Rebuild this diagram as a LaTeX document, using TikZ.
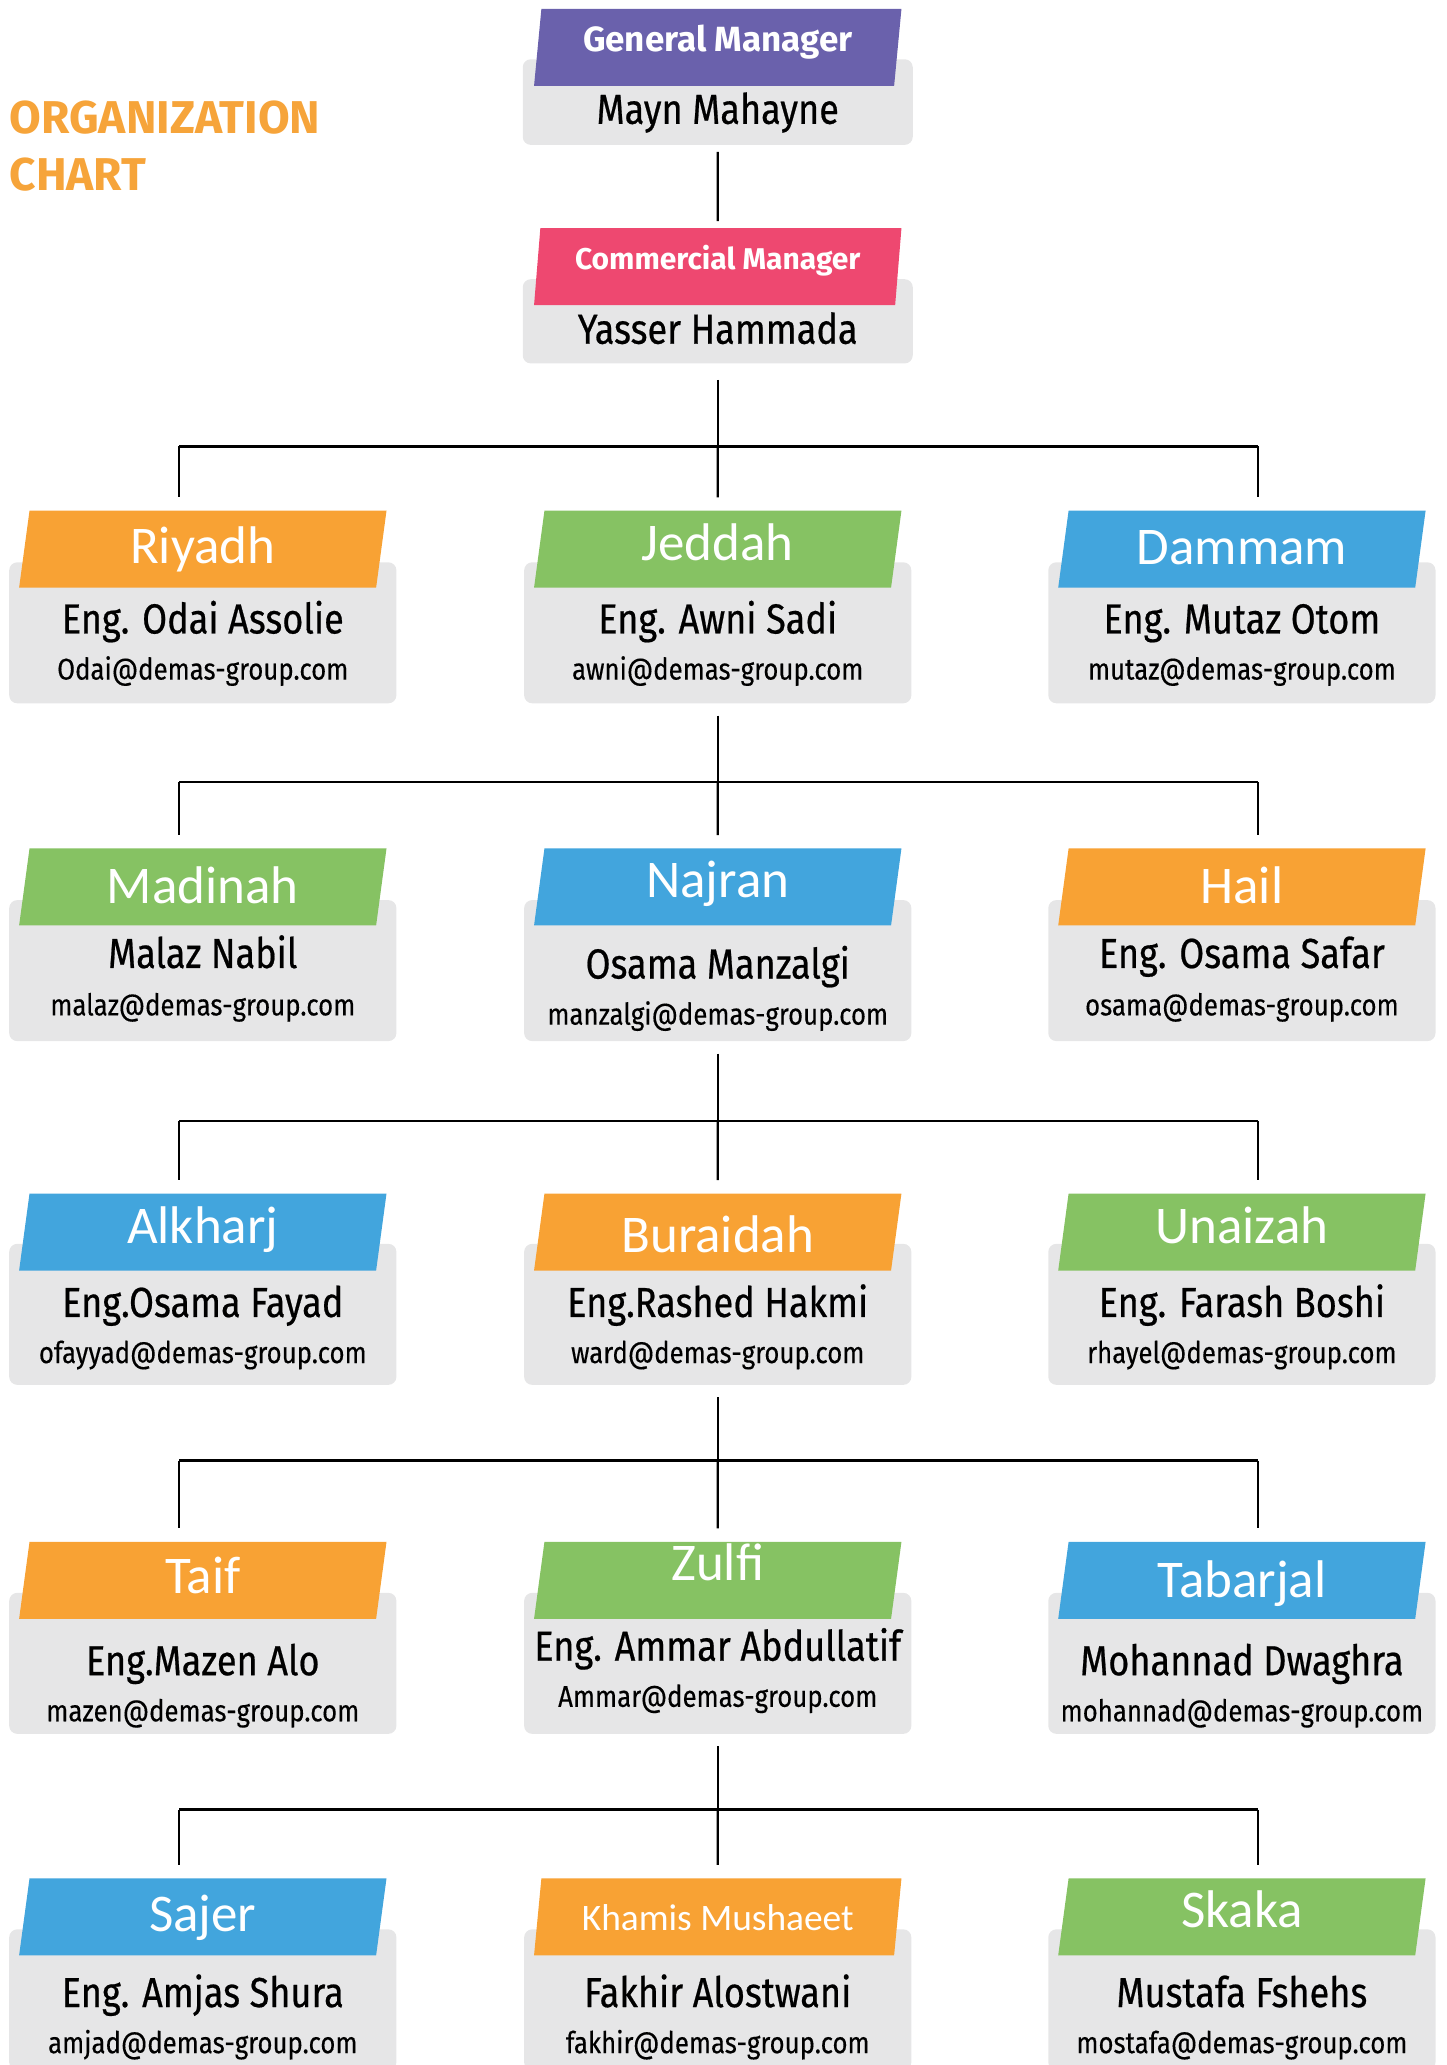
\documentclass[tikz,border=0pt]{standalone}
\usepackage{fontspec}
\usetikzlibrary{shapes.geometric}
\newfontfamily\dinfont[FakeStretch=0.86,FakeBold=0.3]{Fira Sans}
\newfontfamily\namefont[FakeStretch=0.86,FakeBold=0.5]{Fira Sans}
\newfontfamily\headfont{Fira Sans}
\newfontfamily\cityfont{Carlito}
\definecolor{gmpurple}{HTML}{6A61AC}
\definecolor{cmpink}{HTML}{EE4870}
\definecolor{tagorange}{HTML}{F8A234}
\definecolor{taggreen}{HTML}{86C263}
\definecolor{tagblue}{HTML}{42A5DD}
\definecolor{cardgray}{HTML}{E6E6E7}
\definecolor{titleorange}{HTML}{F6A43A}
\begin{document}
\begin{tikzpicture}[x=0.6585pt, y=-0.6585pt,
    card/.style = {fill=cardgray, rounded corners=4pt, minimum width=193.6pt, minimum height=70.5pt, inner sep=0pt},
    tag/.style = {trapezium, trapezium left angle=73, trapezium right angle=107, trapezium stretches body,
                  minimum width=183.7pt, minimum height=38.5pt, inner sep=0pt, text=white,
                  font=\cityfont\fontsize{26.5}{30}\selectfont, text height=17pt, text depth=0pt},
    mgr/.style = {tag, font=\headfont\bfseries\fontsize{17.5}{21}\selectfont, text height=12pt},
    person/.style = {anchor=base, font=\namefont\fontsize{21}{24}\selectfont},
    mail/.style = {anchor=base, font=\dinfont\fontsize{15}{18}\selectfont},
    title/.style = {anchor=base west, inner sep=0pt, text=titleorange, font=\headfont\bfseries\fontsize{23}{27}\selectfont},
    link/.style = {line width=1.1pt}]
    \useasboundingbox (0,0) rectangle (1098,1568);

    %title
    \node[title] (ttl1) at (7,101) {ORGANIZATION};
    \node[title] (ttl2) at (7,145) {CHART};

    %managers
    \node[card, minimum width=195pt, minimum height=42.8pt] (gmB) at (545,77.5) {};
    \node[mgr, fill=gmpurple] (gmT) at (545,36) {\raisebox{4pt}{General Manager}};
    \node[person] (gm) at (545,94) {Mayn Mahayne};

    \node[card, minimum width=195pt, minimum height=42.1pt] (cmB) at (545,244) {};
    \node[mgr, fill=cmpink, font=\headfont\bfseries\fontsize{15}{18}\selectfont, text height=10.3pt] (cmT) at (545,202.5) {\raisebox{3.6pt}{Commercial Manager}};
    \node[person] (cm) at (545,261) {Yasser Hammada};

    %row 1
    \node[card] (riyB) at (154,480.5) {};
    \node[tag, fill=tagorange] (riyT) at (154,417) {\raisebox{1.3pt}{Riyadh}};
    \node[person] (riy) at (154,481) {Eng. Odai Assolie};
    \node[mail] (riyM) at (154,516) {Odai@demas-group.com};

    \node[card] (jedB) at (545,480.5) {};
    \node[tag, fill=taggreen] (jedT) at (545,417) {\raisebox{2.6pt}{Jeddah}};
    \node[person] (jed) at (545,481) {Eng. Awni Sadi};
    \node[mail] (jedM) at (545,516) {awni@demas-group.com};

    \node[card] (damB) at (943,480.5) {};
    \node[tag, fill=tagblue] (damT) at (943,417) {\raisebox{0.7pt}{Dammam}};
    \node[person] (dam) at (943,481) {Eng. Mutaz Otom};
    \node[mail] (damM) at (943,516) {mutaz@demas-group.com};

    %row 2
    \node[card] (madB) at (154,737) {};
    \node[tag, fill=taggreen] (madT) at (154,673.5) {Madinah};
    \node[person] (mad) at (154,735) {Malaz Nabil};
    \node[mail] (madM) at (154,771) {malaz@demas-group.com};

    \node[card] (najB) at (545,737) {};
    \node[tag, fill=tagblue] (najT) at (545,673.5) {\raisebox{3pt}{Najran}};
    \node[person] (naj) at (545,743) {Osama Manzalgi};
    \node[mail] (najM) at (545,778) {manzalgi@demas-group.com};

    \node[card] (haiB) at (943,737) {};
    \node[tag, fill=tagorange] (haiT) at (943,673.5) {Hail};
    \node[person] (hai) at (943,735) {Eng. Osama Safar};
    \node[mail] (haiM) at (943,771) {osama@demas-group.com};

    %row 3
    \node[card] (alkB) at (154,998) {};
    \node[tag, fill=tagblue] (alkT) at (154,935.5) {\raisebox{3pt}{Alkharj}};
    \node[person] (alk) at (154,1000) {Eng.Osama Fayad};
    \node[mail] (alkM) at (154,1035) {ofayyad@demas-group.com};

    \node[card] (burB) at (545,998) {};
    \node[tag, fill=tagorange] (burT) at (545,935.5) {\raisebox{-1.6pt}{Buraidah}};
    \node[person] (bur) at (545,1000) {Eng.Rashed Hakmi};
    \node[mail] (burM) at (545,1035) {ward@demas-group.com};

    \node[card] (unaB) at (943,998) {};
    \node[tag, fill=taggreen] (unaT) at (943,935.5) {\raisebox{3pt}{Unaizah}};
    \node[person] (una) at (943,1000) {Eng. Farash Boshi};
    \node[mail] (unaM) at (943,1035) {rhayel@demas-group.com};

    %row 4
    \node[card] (taiB) at (154,1263) {};
    \node[tag, fill=tagorange] (taiT) at (154,1200) {\raisebox{2pt}{Taif}};
    \node[person] (tai) at (154,1272) {Eng.Mazen Alo};
    \node[mail] (taiM) at (154,1307) {mazen@demas-group.com};

    \node[card] (zulB) at (545,1263) {};
    \node[tag, fill=taggreen] (zulT) at (545,1200) {\raisebox{8.6pt}{Zulfi}};
    \node[person] (zul) at (545,1261) {Eng. Ammar Abdullatif};
    \node[mail] (zulM) at (545,1296) {Ammar@demas-group.com};

    \node[card] (tabB) at (943,1263) {};
    \node[tag, fill=tagblue] (tabT) at (943,1200) {Tabarjal};
    \node[person] (tab) at (943,1272) {Mohannad Dwaghra};
    \node[mail] (tabM) at (943,1307) {mohannad@demas-group.com};

    %row 5
    \node[card] (sajB) at (154,1518.5) {};
    \node[tag, fill=tagblue] (sajT) at (154,1455.5) {\raisebox{1pt}{Sajer}};
    \node[person] (saj) at (154,1524) {Eng. Amjas Shura};
    \node[mail] (sajM) at (154,1559) {amjad@demas-group.com};

    \node[card] (khmB) at (545,1518.5) {};
    \node[tag, fill=tagorange, font=\cityfont\fontsize{18.7}{22}\selectfont, text height=12pt] (khmT) at (545,1455.5) {\raisebox{-1pt}{Khamis Mushaeet}};
    \node[person] (khm) at (545,1524) {Fakhir Alostwani};
    \node[mail] (khmM) at (545,1559) {fakhir@demas-group.com};

    \node[card] (skaB) at (943,1518.5) {};
    \node[tag, fill=taggreen] (skaT) at (943,1455.5) {\raisebox{3pt}{Skaka}};
    \node[person] (ska) at (943,1524) {Mustafa Fshehs};
    \node[mail] (skaM) at (943,1559) {mostafa@demas-group.com};

    %buses
    \coordinate (bus1) at (545,339);  \coordinate (b1l) at (136,339);  \coordinate (b1r) at (955,339);
    \coordinate (bus2) at (545,594);  \coordinate (b2l) at (136,594);  \coordinate (b2r) at (955,594);
    \coordinate (bus3) at (545,851);  \coordinate (b3l) at (136,851);  \coordinate (b3r) at (955,851);
    \coordinate (bus4) at (545,1109); \coordinate (b4l) at (136,1109); \coordinate (b4r) at (955,1109);
    \coordinate (bus5) at (545,1374); \coordinate (b5l) at (136,1374); \coordinate (b5r) at (955,1374);

    %links
    \draw[link, shorten <=3.3pt, shorten >=3.3pt] (gmB.south) -- (cmT.north);
    \draw[link, shorten <=8pt] (cmB.south) -- (bus1);
    \draw[link] (b1l) -- (b1r);
    \draw[link, shorten >=6.5pt] (b1l) -- (b1l |- riyT.north);
    \draw[link, shorten >=6.5pt] (bus1) -- (jedT.north);
    \draw[link, shorten >=6.5pt] (b1r) -- (b1r |- damT.north);

    \draw[link, shorten <=6pt] (jedB.south) -- (bus2);
    \draw[link] (b2l) -- (b2r);
    \draw[link, shorten >=6.5pt] (b2l) -- (b2l |- madT.north);
    \draw[link, shorten >=6.5pt] (bus2) -- (najT.north);
    \draw[link, shorten >=6.5pt] (b2r) -- (b2r |- haiT.north);

    \draw[link, shorten <=6pt] (najB.south) -- (bus3);
    \draw[link] (b3l) -- (b3r);
    \draw[link, shorten >=6.5pt] (b3l) -- (b3l |- alkT.north);
    \draw[link, shorten >=6.5pt] (bus3) -- (burT.north);
    \draw[link, shorten >=6.5pt] (b3r) -- (b3r |- unaT.north);

    \draw[link, shorten <=6pt] (burB.south) -- (bus4);
    \draw[link] (b4l) -- (b4r);
    \draw[link, shorten >=6.5pt] (b4l) -- (b4l |- taiT.north);
    \draw[link, shorten >=6.5pt] (bus4) -- (zulT.north);
    \draw[link, shorten >=6.5pt] (b4r) -- (b4r |- tabT.north);

    \draw[link, shorten <=6pt] (zulB.south) -- (bus5);
    \draw[link] (b5l) -- (b5r);
    \draw[link, shorten >=6.5pt] (b5l) -- (b5l |- sajT.north);
    \draw[link, shorten >=6.5pt] (bus5) -- (khmT.north);
    \draw[link, shorten >=6.5pt] (b5r) -- (b5r |- skaT.north);
\end{tikzpicture}
\end{document}
